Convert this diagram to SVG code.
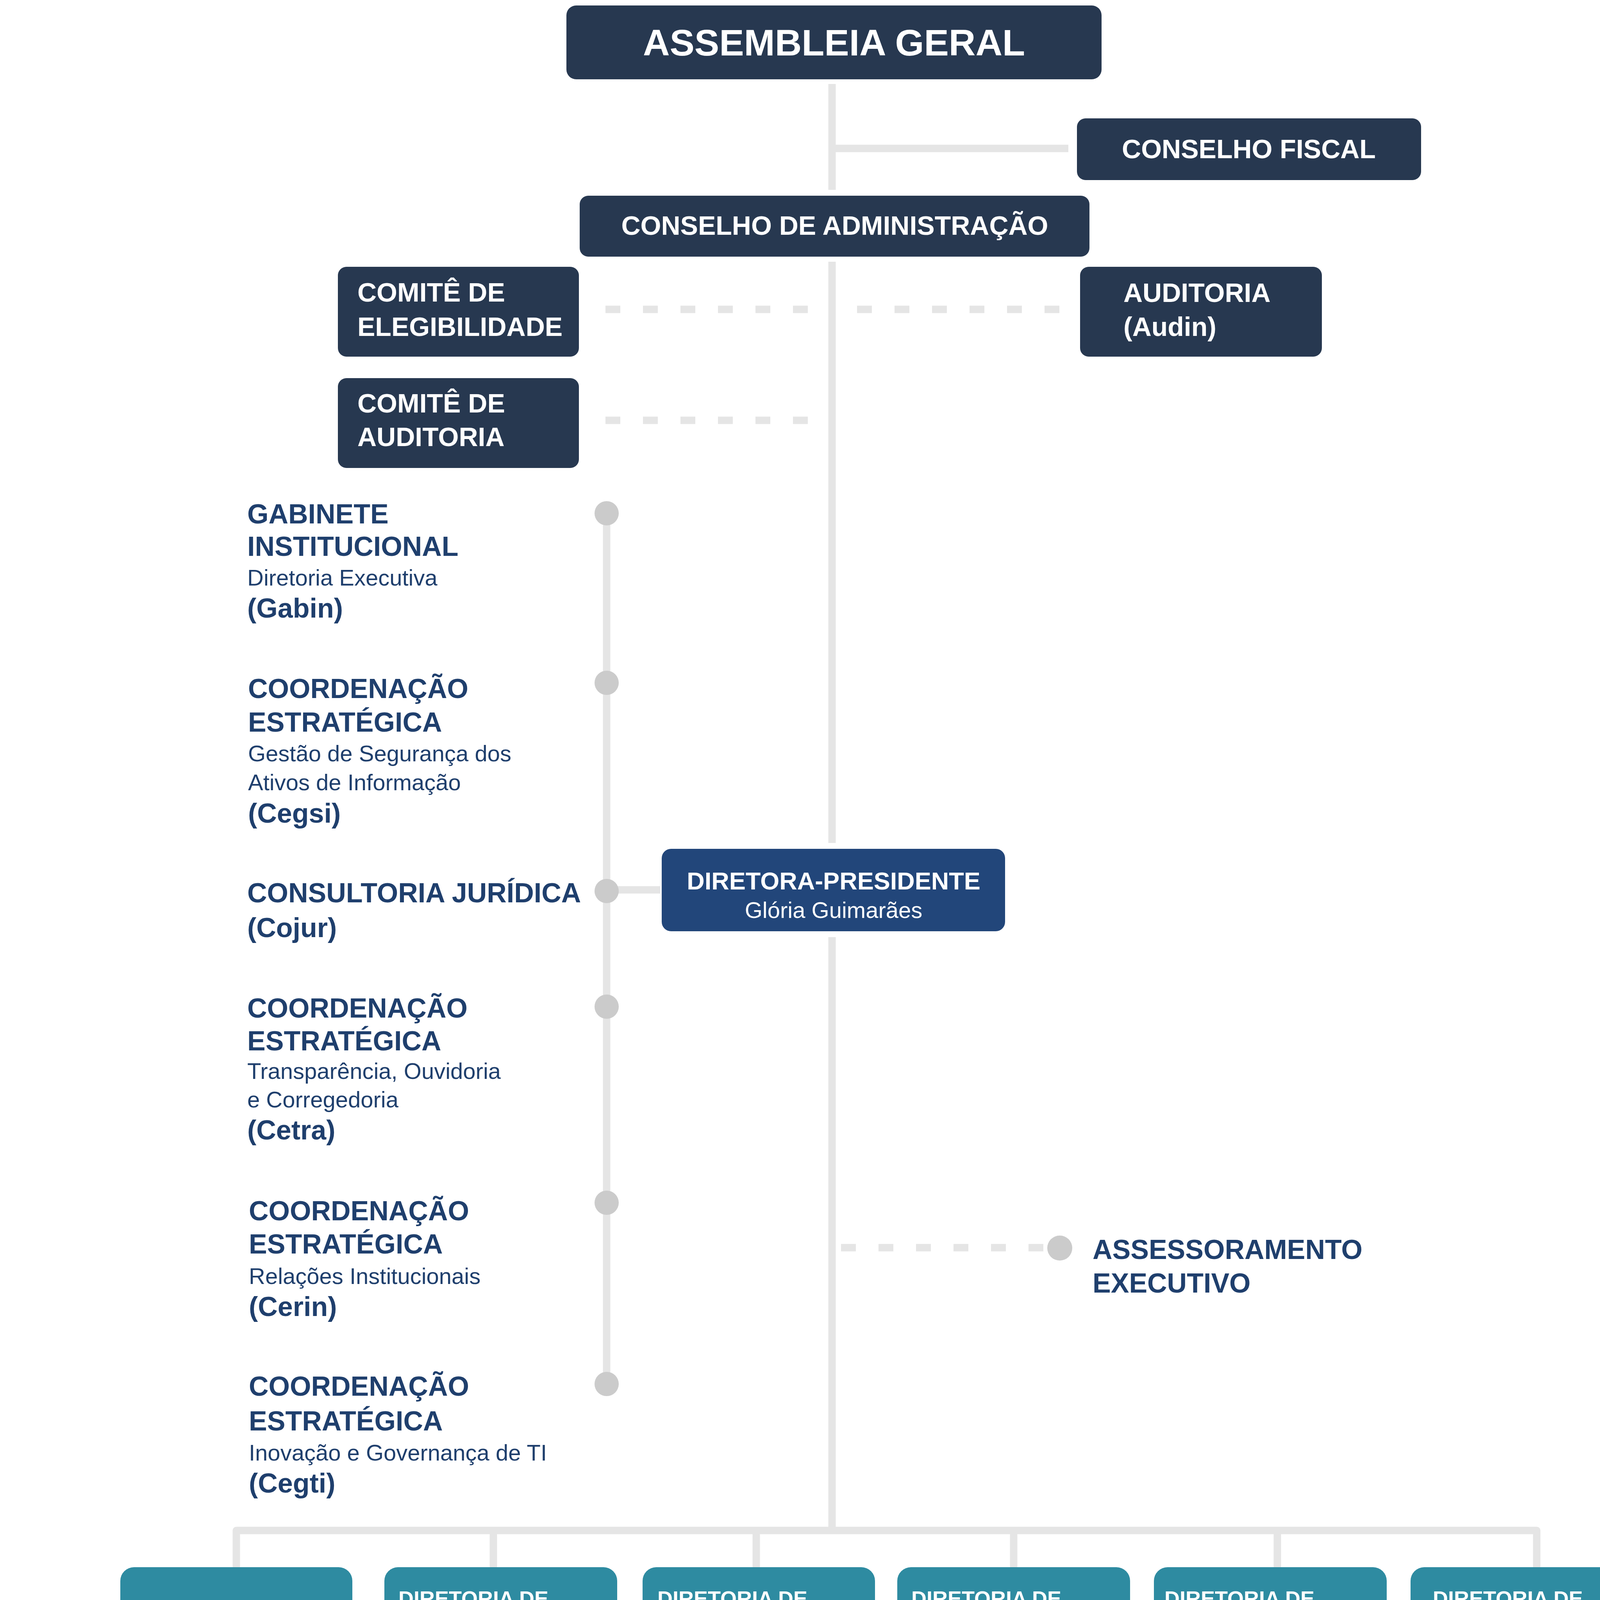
<svg xmlns="http://www.w3.org/2000/svg" width="4262" height="7696" viewBox="0 0 4262 7696">
<style>
text{font-family:"Liberation Sans",Arial,sans-serif}
.b{font-weight:700}
.w{fill:#FFFFFF}
.c{text-anchor:middle}
.navy{fill:#273850}
.blue{fill:#22467A}
.teal{fill:#2E8BA1}
.staff{fill:#1F3F6D}
.sub{fill:#2A859B}
.coadm{fill:#68AFC1}
.dot{fill:#CBCBCB}
.ln{stroke:#E5E5E5;stroke-width:19;fill:none}
.dash{stroke:#E5E5E5;stroke-width:19;stroke-dasharray:38 58;fill:none}
.s70{font-size:70px}
.s58{font-size:58px}
.s54{font-size:54px}
.s56{font-size:56px}
.leg{fill:#87888A;font-size:44px;font-weight:700}
</style>
<rect width="4262" height="7696" fill="#FFFFFF"/>

<g id="connectors">
  <line class="ln" x1="2130" y1="215" x2="2130" y2="486"/>
  <line class="ln" x1="2130" y1="380" x2="2735" y2="380"/>
  <line class="ln" x1="2130" y1="670" x2="2130" y2="2158"/>
  <line class="ln" x1="2130" y1="2399" x2="2130" y2="3918"/>
  <line class="dash" x1="1550" y1="792" x2="2069" y2="792"/>
  <line class="dash" x1="2194" y1="792" x2="2713" y2="792"/>
  <line class="dash" x1="1550" y1="1076" x2="2069" y2="1076"/>
  <line class="ln" x1="1553" y1="1314" x2="1553" y2="3543"/>
  <line class="ln" x1="1553" y1="2278" x2="1690" y2="2278"/>
  <line class="dash" x1="2153" y1="3194" x2="2673" y2="3194"/>
  <path class="ln" d="M605,4012 V3918 H3934 V4012" stroke-linejoin="round"/>
  <line class="ln" x1="1263" y1="3918" x2="1263" y2="4012"/>
  <line class="ln" x1="1936" y1="3918" x2="1936" y2="4012"/>
  <line class="ln" x1="2595" y1="3918" x2="2595" y2="4012"/>
  <line class="ln" x1="3270" y1="3918" x2="3270" y2="4012"/>
  <line class="ln" x1="1083" y1="4477" x2="1083" y2="7444"/>
  <line class="ln" x1="1748" y1="4477" x2="1748" y2="7443"/>
  <line class="ln" x1="2347" y1="4477" x2="2347" y2="7444"/>
  <line class="ln" x1="3008" y1="4477" x2="3008" y2="7434"/>
  <line class="ln" x1="3682" y1="4477" x2="3682" y2="7434"/>
</g>

<g id="assembleia-geral">
  <rect class="navy" x="1450" y="14" width="1370" height="189" rx="25"/>
  <text class="w b c" x="2135" y="142" font-size="95">ASSEMBLEIA GERAL</text>
</g>
<g id="conselho-fiscal">
  <rect class="navy" x="2757" y="303" width="881" height="158" rx="22"/>
  <text class="w b c" x="3197" y="405" font-size="68">CONSELHO FISCAL</text>
</g>
<g id="conselho-administracao">
  <rect class="navy" x="1484" y="501" width="1305" height="156" rx="22"/>
  <text class="w b c" x="2137" y="601" font-size="68">CONSELHO DE ADMINISTRAÇÃO</text>
</g>
<g id="comite-elegibilidade">
  <rect class="navy" x="865" y="683" width="617" height="230" rx="22"/>
  <text class="w b" x="915" y="772" font-size="68">COMITÊ DE</text>
  <text class="w b" x="915" y="860" font-size="68">ELEGIBILIDADE</text>
</g>
<g id="auditoria-audin">
  <rect class="navy" x="2765" y="683" width="619" height="230" rx="22"/>
  <text class="w b" x="2876" y="773" font-size="68">AUDITORIA</text>
  <text class="w b" x="2876" y="860" font-size="68">(Audin)</text>
</g>
<g id="comite-auditoria">
  <rect class="navy" x="865" y="968" width="617" height="230" rx="22"/>
  <text class="w b" x="915" y="1056" font-size="68">COMITÊ DE</text>
  <text class="w b" x="915" y="1142" font-size="68">AUDITORIA</text>
</g>
<g id="diretora-presidente">
  <rect class="blue" x="1694" y="2173" width="879" height="211" rx="24"/>
  <text class="w b c" x="2134" y="2277" font-size="63">DIRETORA-PRESIDENTE</text>
  <text class="w c" x="2134" y="2350" font-size="58">Glória Guimarães</text>
</g>

<g id="gabin">
  <circle class="dot" cx="1553" cy="1314" r="31"/>
  <text class="staff b s70" x="633" y="1340">GABINETE</text>
  <text class="staff b s70" x="633" y="1423">INSTITUCIONAL</text>
  <text class="staff s58" x="633" y="1499">Diretoria Executiva</text>
  <text class="staff b s70" x="633" y="1581">(Gabin)</text>
</g>
<g id="cegsi">
  <circle class="dot" cx="1553" cy="1748" r="31"/>
  <text class="staff b s70" x="635" y="1787">COORDENAÇÃO</text>
  <text class="staff b s70" x="635" y="1873">ESTRATÉGICA</text>
  <text class="staff s58" x="635" y="1949">Gestão de Segurança dos</text>
  <text class="staff s58" x="635" y="2023">Ativos de Informação</text>
  <text class="staff b s70" x="635" y="2106">(Cegsi)</text>
</g>
<g id="cojur">
  <circle class="dot" cx="1553" cy="2281" r="31"/>
  <text class="staff b s70" x="633" y="2310">CONSULTORIA JURÍDICA</text>
  <text class="staff b s70" x="633" y="2399">(Cojur)</text>
</g>
<g id="cetra">
  <circle class="dot" cx="1553" cy="2577" r="31"/>
  <text class="staff b s70" x="633" y="2605">COORDENAÇÃO</text>
  <text class="staff b s70" x="633" y="2689">ESTRATÉGICA</text>
  <text class="staff s58" x="633" y="2762">Transparência, Ouvidoria</text>
  <text class="staff s58" x="633" y="2835">e Corregedoria</text>
  <text class="staff b s70" x="633" y="2917">(Cetra)</text>
</g>
<g id="cerin">
  <circle class="dot" cx="1553" cy="3079" r="31"/>
  <text class="staff b s70" x="637" y="3124">COORDENAÇÃO</text>
  <text class="staff b s70" x="637" y="3209">ESTRATÉGICA</text>
  <text class="staff s58" x="637" y="3287">Relações Institucionais</text>
  <text class="staff b s70" x="637" y="3369">(Cerin)</text>
</g>
<g id="cegti">
  <circle class="dot" cx="1553" cy="3543" r="31"/>
  <text class="staff b s70" x="637" y="3573">COORDENAÇÃO</text>
  <text class="staff b s70" x="637" y="3662">ESTRATÉGICA</text>
  <text class="staff s58" x="637" y="3739">Inovação e Governança de TI</text>
  <text class="staff b s70" x="637" y="3821">(Cegti)</text>
</g>
<g id="assessoramento-executivo">
  <circle class="dot" cx="2713" cy="3195" r="32"/>
  <text class="staff b s70" x="2797" y="3223">ASSESSORAMENTO</text>
  <text class="staff b s70" x="2797" y="3309">EXECUTIVO</text>
</g>

<g id="diretoria">
  <rect class="teal" x="308" y="4012" width="594" height="373" rx="35"/>
  <text class="w b c s54" x="605" y="4214">DIRETORIA</text>
</g>
<g id="dircl">
  <rect class="teal" x="984" y="4012" width="596" height="465" rx="35"/>
  <text class="w b s54" x="1020" y="4111">DIRETORIA DE</text>
  <text class="w b s54" x="1020" y="4178">RELACIONAMENTO</text>
  <text class="w b s54" x="1020" y="4244">COM CLIENTES</text>
  <text class="w b s54" x="1020" y="4309">(Dircl)</text>
  <text class="w s54" x="1020" y="4410">André de Cesero</text>
</g>
<g id="diope">
  <rect class="teal" x="1645" y="4012" width="595" height="465" rx="35"/>
  <text class="w b s54" x="1683" y="4111">DIRETORIA DE</text>
  <text class="w b s54" x="1683" y="4178">OPERAÇÕES</text>
  <text class="w b s54" x="1683" y="4244">(Diope)</text>
  <text class="w s54" x="1683" y="4410">Iran Porto Júnior</text>
</g>
<g id="dirad">
  <rect class="teal" x="2297" y="4012" width="596" height="465" rx="35"/>
  <text class="w b s54" x="2333" y="4111">DIRETORIA DE</text>
  <text class="w b s54" x="2333" y="4178">ADMINISTRAÇÃO</text>
  <text class="w b s54" x="2333" y="4244">(Dirad)</text>
  <text class="w s54" x="2333" y="4410">Antônio Pádua Passos</text>
</g>
<g id="dides">
  <rect class="teal" x="2954" y="4012" width="596" height="465" rx="35"/>
  <text class="w b s54" x="2981" y="4111">DIRETORIA DE</text>
  <text class="w b s54" x="2981" y="4178">DESENVOLVIMENTO</text>
  <text class="w b s54" x="2981" y="4244">(Dides)</text>
  <text class="w s54" x="2981" y="4410">Antonio Luiz Fuschino</text>
</g>
<g id="digog">
  <rect class="teal" x="3611" y="4012" width="597" height="465" rx="35"/>
  <text class="w b s54" x="3668" y="4111">DIRETORIA DE</text>
  <text class="w b s54" x="3668" y="4178">GOVERNANÇA</text>
  <text class="w b s54" x="3668" y="4244">E GESTÃO</text>
  <text class="w b s54" x="3668" y="4309">(Digog)</text>
  <text class="w s54" x="3668" y="4410">Izabel Freitas</text>
</g>

<!-- Dircl column -->
<g id="sunng">
  <circle class="dot" cx="1083" cy="4587" r="32"/>
  <text class="sub b s54" x="1136" y="4605">SUPERINTEND.</text>
  <text class="sub b s54" x="1136" y="4671">DE RELAC. COM</text>
  <text class="sub b s54" x="1136" y="4737">CLIENTES</text>
  <text class="sub s56" x="1136" y="4815">Novos Negócios</text>
  <text class="sub b s54" x="1136" y="4892">(Sunng)</text>
</g>
<g id="sunmf">
  <circle class="dot" cx="1083" cy="5127" r="32"/>
  <text class="sub b s54" x="1138" y="5148">SUPERINTEND.</text>
  <text class="sub b s54" x="1138" y="5215">DE RELAC. COM</text>
  <text class="sub b s54" x="1138" y="5280">CLIENTES</text>
  <text class="sub s56" x="1138" y="5354">Fazendários e</text>
  <text class="sub s56" x="1138" y="5430">Comércio Exterior</text>
  <text class="sub b s54" x="1136" y="5510">(Sunmf)</text>
</g>
<g id="sunes">
  <circle class="dot" cx="1083" cy="5655" r="32"/>
  <text class="sub b s54" x="1138" y="5674">SUPERINTEND.</text>
  <text class="sub b s54" x="1138" y="5741">DE RELAC. COM</text>
  <text class="sub b s54" x="1138" y="5806">CLIENTES</text>
  <text class="sub s56" x="1138" y="5880">Estruturantes</text>
  <text class="sub b s54" x="1136" y="5959">(Sunes)</text>
</g>
<g id="suncf">
  <circle class="dot" cx="1083" cy="6236" r="32"/>
  <text class="sub b s54" x="1137" y="6263">SUPERINTEND.</text>
  <text class="sub b s54" x="1137" y="6331">DE RELAC. COM</text>
  <text class="sub b s54" x="1137" y="6396">CLIENTES</text>
  <text class="sub s56" x="1137" y="6470">Finalísticos</text>
  <text class="sub b s54" x="1134" y="6541">(Suncf)</text>
</g>
<g id="sunge">
  <circle class="dot" cx="1083" cy="6839" r="32"/>
  <text class="sub b s54" x="1137" y="6861">SUPERINTEND.</text>
  <text class="sub b s54" x="1137" y="6927">DE GESTÃO</text>
  <text class="sub s56" x="1137" y="7011">Comercial,</text>
  <text class="sub s56" x="1137" y="7089">Soluções Analíticas</text>
  <text class="sub s56" x="1137" y="7166">e Entrega de</text>
  <text class="sub s56" x="1137" y="7244">Serviços Digitais</text>
  <text class="sub b s54" x="1134" y="7331">(Sunge)</text>
</g>
<g id="coadm-dircl">
  <circle class="dot" cx="1083" cy="7444" r="32"/>
  <text class="coadm b s54" x="1137" y="7460">COORDENAÇÃO</text>
  <text class="coadm b s54" x="1137" y="7528">DE SUPORTE</text>
  <text class="coadm b s54" x="1137" y="7593">ADMINISTRATIVO</text>
  <text class="coadm b s54" x="1137" y="7661">(Coadm)</text>
</g>

<!-- Diope column -->
<g id="supes">
  <circle class="dot" cx="1746" cy="4587" r="32"/>
  <text class="sub b s54" x="1810" y="4605">SUPERINTEND.</text>
  <text class="sub b s54" x="1810" y="4671">DE PRODUTOS</text>
  <text class="sub b s54" x="1810" y="4737">E SERVIÇOS</text>
  <text class="sub s56" x="1810" y="4815">Engenharia de</text>
  <text class="sub s56" x="1810" y="4892">Infraestrutura de TI</text>
  <text class="sub b s54" x="1810" y="4971">(Supes)</text>
</g>
<g id="supcd">
  <circle class="dot" cx="1746" cy="5121" r="32"/>
  <text class="sub b s54" x="1810" y="5143">SUPERINTEND.</text>
  <text class="sub b s54" x="1810" y="5210">DE PRODUTOS</text>
  <text class="sub b s54" x="1810" y="5275">E SERVIÇOS</text>
  <text class="sub s56" x="1810" y="5349">Centro de Dados</text>
  <text class="sub b s54" x="1810" y="5428">(Supcd)</text>
</g>
<g id="supop">
  <circle class="dot" cx="1746" cy="5659" r="32"/>
  <text class="sub b s54" x="1810" y="5686">SUPERINTEND.</text>
  <text class="sub b s54" x="1810" y="5752">DE PRODUTOS</text>
  <text class="sub b s54" x="1810" y="5818">E SERVIÇOS</text>
  <text class="sub s56" x="1810" y="5885">Operações</text>
  <text class="sub b s54" x="1810" y="5969">(Supop)</text>
</g>
<g id="coadm-diope">
  <circle class="dot" cx="1746" cy="7443" r="32"/>
  <text class="coadm b s54" x="1809" y="7462">COORDENAÇÃO</text>
  <text class="coadm b s54" x="1809" y="7530">DE SUPORTE</text>
  <text class="coadm b s54" x="1809" y="7595">ADMINISTRATIVO</text>
  <text class="coadm b s54" x="1809" y="7663">(Coadm)</text>
</g>

<!-- Dirad column -->
<g id="supga">
  <circle class="dot" cx="2348" cy="4587" r="32"/>
  <text class="sub b s54" x="2407" y="4605">SUPERINTEND.</text>
  <text class="sub b s54" x="2407" y="4671">DE AQUISIÇÕES</text>
  <text class="sub b s54" x="2407" y="4737">E CONTRATOS</text>
  <text class="sub b s54" x="2407" y="4803">(Supga)</text>
</g>
<g id="supgp">
  <circle class="dot" cx="2348" cy="5124" r="32"/>
  <text class="sub b s54" x="2407" y="5148">SUPERINTEND.</text>
  <text class="sub b s54" x="2407" y="5215">DE GESTÃO</text>
  <text class="sub b s54" x="2407" y="5280">DE PESSOAS</text>
  <text class="sub b s54" x="2407" y="5347">(Supgp)</text>
</g>
<g id="supgl">
  <circle class="dot" cx="2348" cy="5655" r="32"/>
  <text class="sub b s54" x="2407" y="5674">SUPERINTEND.</text>
  <text class="sub b s54" x="2407" y="5741">DE LOGÍSTICA</text>
  <text class="sub b s54" x="2407" y="5806">(Supgl)</text>
</g>
<g id="supgf">
  <circle class="dot" cx="2348" cy="6236" r="32"/>
  <text class="sub b s54" x="2407" y="6263">SUPERINTEND.</text>
  <text class="sub b s54" x="2407" y="6330">DE GESTÃO</text>
  <text class="sub b s54" x="2407" y="6396">FINANCEIRA</text>
  <text class="sub b s54" x="2407" y="6465">(Supgf)</text>
</g>
<g id="supco">
  <circle class="dot" cx="2348" cy="6839" r="32"/>
  <text class="sub b s54" x="2407" y="6861">SUPERINTEND. DE</text>
  <text class="sub b s54" x="2407" y="6927">CONTROLADORIA</text>
  <text class="sub b s54" x="2407" y="6995">(Supco)</text>
</g>
<g id="coadm-dirad">
  <circle class="dot" cx="2348" cy="7444" r="32"/>
  <text class="coadm b s54" x="2407" y="7460">COORDENAÇÃO</text>
  <text class="coadm b s54" x="2407" y="7528">DE SUPORTE</text>
  <text class="coadm b s54" x="2407" y="7593">ADMINISTRATIVO</text>
  <text class="coadm b s54" x="2407" y="7661">(Coadm)</text>
</g>

<!-- Dides column -->
<g id="supde">
  <circle class="dot" cx="3008" cy="4587" r="32"/>
  <text class="sub b s54" x="3073" y="4605">SUPERINTEND.</text>
  <text class="sub b s54" x="3073" y="4671">DE DESENVOLV.</text>
  <text class="sub b s54" x="3073" y="4737">(Supde)</text>
</g>
<g id="supsd">
  <circle class="dot" cx="3008" cy="5124" r="32"/>
  <text class="sub b s54" x="3073" y="5143">SUPERINTEND.</text>
  <text class="sub b s54" x="3073" y="5210">DE SUPORTE E</text>
  <text class="sub b s54" x="3073" y="5275">DADOS</text>
  <text class="sub b s54" x="3073" y="5342">(Supsd)</text>
</g>
<g id="supss">
  <circle class="dot" cx="3008" cy="5655" r="32"/>
  <text class="sub b s54" x="3073" y="5674">SUPERINTEND.</text>
  <text class="sub b s54" x="3073" y="5741">DE SERVIÇOS E</text>
  <text class="sub b s54" x="3073" y="5806">SOLUÇÕES</text>
  <text class="sub b s54" x="3073" y="5873">CORPORATIVAS</text>
  <text class="sub b s54" x="3073" y="5940">(Supss)</text>
</g>
<g id="coadm-dides">
  <circle class="dot" cx="3008" cy="7434" r="32"/>
  <text class="coadm b s54" x="3073" y="7460">COORDENAÇÃO</text>
  <text class="coadm b s54" x="3073" y="7528">DE SUPORTE</text>
  <text class="coadm b s54" x="3073" y="7593">ADMINISTRATIVO</text>
  <text class="coadm b s54" x="3073" y="7661">(Coadm)</text>
</g>

<!-- Digog column -->
<g id="supem">
  <circle class="dot" cx="3682" cy="4587" r="32"/>
  <text class="sub b s54" x="3743" y="4605">SUPERINTEND.</text>
  <text class="sub b s54" x="3743" y="4671">DE ESTRATÉGIA,</text>
  <text class="sub b s54" x="3743" y="4737">COMUNICAÇÃO</text>
  <text class="sub b s54" x="3743" y="4803">E MARKETING</text>
  <text class="sub b s54" x="3743" y="4870">(Supem)</text>
</g>
<g id="supog">
  <circle class="dot" cx="3682" cy="5124" r="32"/>
  <text class="sub b s54" x="3743" y="5143">SUPERINTEND. DE</text>
  <text class="sub b s54" x="3743" y="5220">ORGANIZAÇÃO,</text>
  <text class="sub b s54" x="3743" y="5287">PROCESSOS E</text>
  <text class="sub b s54" x="3743" y="5354">PROJETOS</text>
  <text class="sub b s54" x="3743" y="5421">(Supog)</text>
</g>
<g id="supcr">
  <circle class="dot" cx="3682" cy="5655" r="32"/>
  <text class="sub b s54" x="3743" y="5674">SUPERINTEND.</text>
  <text class="sub b s54" x="3743" y="5741">DE CONTROLES,</text>
  <text class="sub b s54" x="3743" y="5806">RISCOS E</text>
  <text class="sub b s54" x="3743" y="5873">CONFORMIDADE</text>
  <text class="sub b s54" x="3743" y="5940">(Supcr)</text>
</g>
<g id="coadm-digog">
  <circle class="dot" cx="3682" cy="7434" r="32"/>
  <text class="coadm b s54" x="3743" y="7460">COORDENAÇÃO</text>
  <text class="coadm b s54" x="3743" y="7528">DE SUPORTE</text>
  <text class="coadm b s54" x="3743" y="7593">ADMINISTRATIVO</text>
  <text class="coadm b s54" x="3743" y="7661">(Coadm)</text>
</g>

<g id="legend">
  <rect x="2" y="7313" width="921" height="358" fill="#FFFFFF" stroke="#8E8E8E" stroke-width="3"/>
  <line x1="56" y1="7444" x2="277" y2="7444" stroke="#87888A" stroke-width="19" stroke-dasharray="47 11.5"/>
  <line x1="56" y1="7572" x2="276" y2="7572" stroke="#87888A" stroke-width="19"/>
  <text class="leg" x="349" y="7436">ÓRGÃO VINCULADO/</text>
  <text class="leg" x="349" y="7491">ASSESSORAMENTO</text>
  <text class="leg" x="349" y="7592">ÓRGÃO SUBORDINADO</text>
</g>
</svg>
